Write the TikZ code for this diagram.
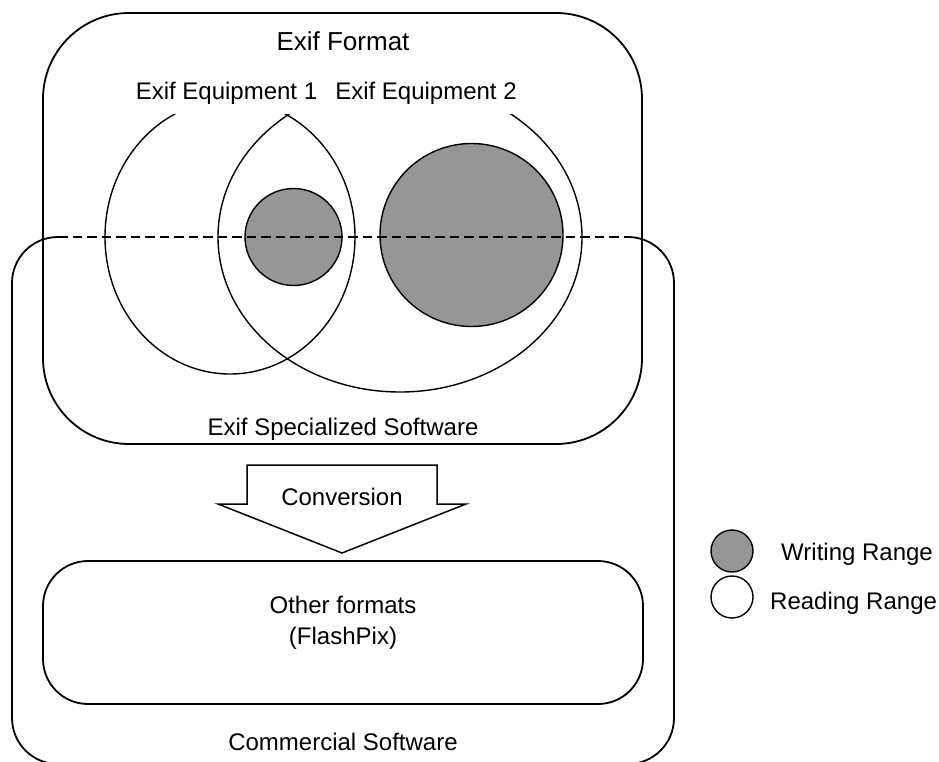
\documentclass[tikz,border=0pt]{standalone}
\usepackage{fontspec}
\setmainfont{Liberation Sans}
\definecolor{fillgray}{RGB}{150,150,150}
\begin{document}
\begin{tikzpicture}[x=1pt,y=-1pt,
  lbl/.style={inner sep=0pt,font=\fontsize{24}{31}\selectfont},
  boxline/.style={line width=1.8pt},
  ringline/.style={line width=1.4pt},
  grayring/.style={line width=1.4pt,fill=fillgray},
  dashline/.style={line width=1.6pt,dash pattern=on 9.5pt off 5pt}]
\useasboundingbox (0,0) rectangle (939,762);
% Commercial Software box (solid corners, dashed top edge)
\draw[boxline,rounded corners=46pt] (628,237) -- (674,237) -- (674,764) -- (12,764) -- (12,237) -- (58,237);
% Exif Specialized Software box
\draw[boxline,rounded corners=86pt] (43,13) rectangle (642,444);
% Reading ranges
\begin{scope}
\clip (0,115) rectangle (939,762);
\draw[ringline] (230,237) ellipse [x radius=125, y radius=137];
\draw[ringline] (400,237) ellipse [x radius=182, y radius=155];
\end{scope}
% Writing ranges
\draw[grayring] (293.5,237) circle [radius=48.5];
\draw[grayring] (471.5,235) circle [radius=91.5];
% dashed top edge of commercial software box
\coordinate (dl) at (58,237);
\coordinate (dr) at (628,237);
\draw[dashline] (dl) -- (dr);
% labels
\node[lbl,anchor=base,font=\fontsize{26}{31}\selectfont] (exifformat) at (343,51) {Exif Format};
\node[lbl,anchor=base] (eq1) at (226.5,100) {Exif Equipment 1};
\node[lbl,anchor=base] (eq2) at (426,100) {Exif Equipment 2};
\node[lbl,anchor=base] (spec) at (343,435) {Exif Specialized Software};
% conversion arrow
\draw[line width=1.5pt,fill=white] (247,465) -- (437,465) -- (437,504) -- (466,504) -- (342,553) -- (218,504) -- (247,504) -- cycle;
\node[lbl,anchor=base] (conv) at (342,505) {Conversion};
% other formats box
\draw[boxline,rounded corners=45pt] (43,561) rectangle (643,704);
\node[lbl,anchor=base] (other) at (343,613) {Other formats};
\node[lbl,anchor=base] (flash) at (343,644) {(FlashPix)};
\node[lbl,anchor=base] (comm) at (343,750) {Commercial Software};
% legend
\draw[grayring] (732,551) circle [radius=21];
\node[lbl,anchor=base west] (wr) at (781,560) {Writing Range};
\draw[ringline] (732,597) circle [radius=21];
\node[lbl,anchor=base west] (rr) at (770,609) {Reading Range};
\end{tikzpicture}
\end{document}
